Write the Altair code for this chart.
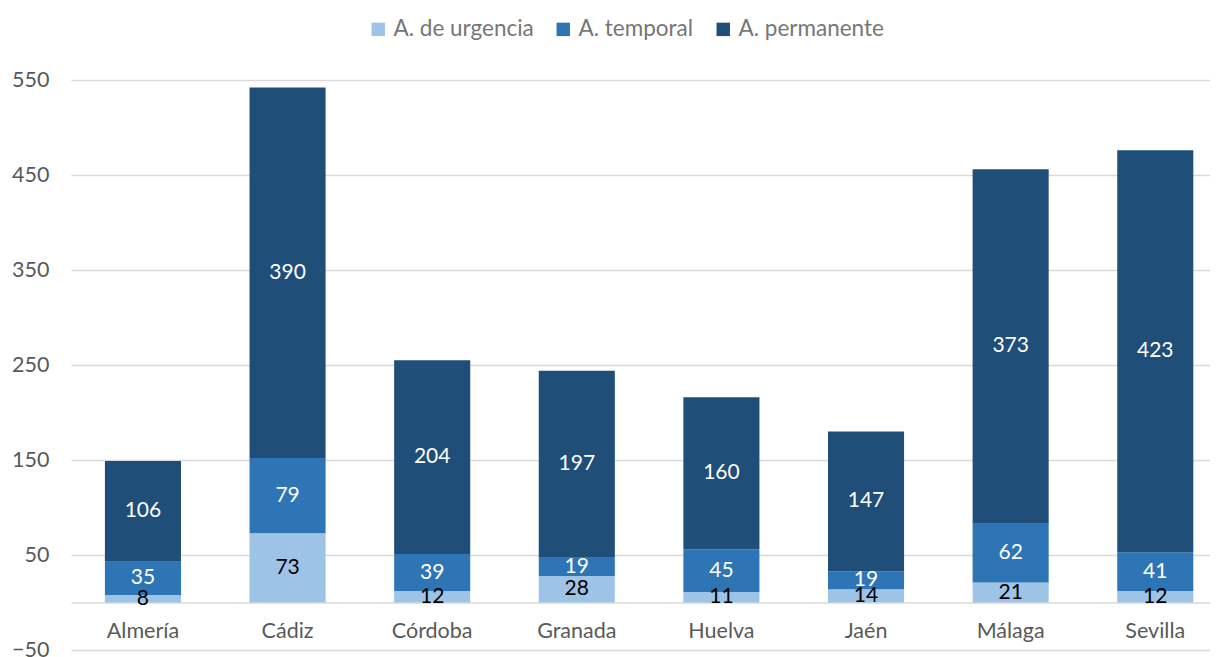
import altair as alt
import pandas as pd

provincias = ["Almería", "Cádiz", "Córdoba", "Granada", "Huelva", "Jaén", "Málaga", "Sevilla"]
series = ["A. de urgencia", "A. temporal", "A. permanente"]
urgencia = [8, 73, 12, 28, 11, 14, 21, 12]
temporal = [35, 79, 39, 19, 45, 19, 62, 41]
permanente = [106, 390, 204, 197, 160, 147, 373, 423]
colores = ["#9DC3E6", "#2E75B6", "#1F4E79"]
y_ticks = [-50, 50, 150, 250, 350, 450, 550]

rows = []
for i, p in enumerate(provincias):
    for k, (s, vals) in enumerate(zip(series, [urgencia, temporal, permanente])):
        rows.append({"prov": p, "serie": s, "value": vals[i], "orden": k})
df = pd.DataFrame(rows)

FONT = "Lato"

base = alt.Chart(df).transform_stack(
    stack="value", groupby=["prov"], as_=["y0", "y1"],
    sort=[alt.SortField("orden", order="ascending")]
).transform_calculate(mid="(datum.y0 + datum.y1) / 2")

xenc = alt.X("prov:N", sort=provincias, title=None,
             scale=alt.Scale(paddingInner=0.474, paddingOuter=0.175, align=0.67),
             axis=alt.Axis(offset=-47.5, labelAngle=0, ticks=False, domainColor="#D9D9D9",
                           domainWidth=1.5, labelPadding=18, labelFontSize=21.5,
                           labelColor="#595959", labelFont=FONT))

yscale = alt.Scale(domain=[-50, 550], nice=False, zero=False)

bars = base.mark_bar().encode(
    x=xenc,
    y=alt.Y("y0:Q", scale=yscale, title=None,
            axis=alt.Axis(values=y_ticks, domain=False, ticks=False, gridColor="#D9D9D9",
                          gridWidth=1.5, labelPadding=22, labelFontSize=21.5,
                          labelColor="#595959", labelFont=FONT)),
    y2="y1:Q",
    color=alt.Color("serie:N", sort=series,
                    scale=alt.Scale(domain=series, range=colores),
                    legend=alt.Legend(title=None, orient="none", direction="horizontal",
                                      legendX=296, legendY=-62, symbolType="square",
                                      symbolSize=180, symbolStrokeWidth=0, labelFontSize=22.5,
                                      labelColor="#767676", labelFont=FONT, labelOffset=4,
                                      columnPadding=18)),
)

labels = base.mark_text(fontSize=21, font=FONT, baseline="middle").encode(
    x=alt.X("prov:N", sort=provincias),
    y=alt.Y("mid:Q", scale=yscale),
    text="value:Q",
    color=alt.condition(alt.datum.serie == "A. de urgencia", alt.value("black"), alt.value("white")),
)

chart = alt.layer(bars, labels).properties(
    width=1139, height=570,
    autosize=alt.AutoSizeParams(type="none"),
    padding={"left": 63, "top": 72, "right": 0, "bottom": 7},
).configure_view(stroke=None)

chart.save("out.html", embed_options={"renderer": "svg", "actions": False})
